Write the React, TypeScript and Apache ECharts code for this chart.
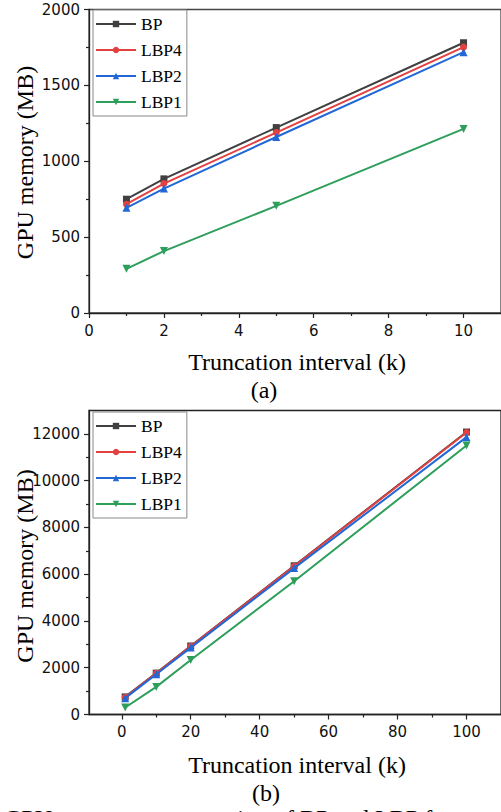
import React, { useEffect, useRef } from "react";
import * as echarts from "echarts";

// ---- Data (a): truncation interval 1..10 k ----
const xA = [1, 2, 5, 10];
const bpA = [750, 884, 1222, 1781];
const lbp4A = [717, 853, 1189, 1752];
const lbp2A = [693, 820, 1160, 1719];
const lbp1A = [291, 408, 706, 1213];

// ---- Data (b): truncation interval 1..100 k ----
const xB = [1, 10, 20, 50, 100];
const bpB = [752, 1770, 2930, 6360, 12080];
const lbp4B = [735, 1760, 2920, 6340, 12060];
const lbp2B = [700, 1720, 2860, 6260, 11860];
const lbp1B = [300, 1180, 2330, 5700, 11500];

const seriesNames = ["BP", "LBP4", "LBP2", "LBP1"];
const xTicksA = [0, 2, 4, 6, 8, 10];
const xMinorA = [1, 3, 5, 7, 9];
const xTicksB = [0, 20, 40, 60, 80, 100];
const xMinorB = [10, 30, 50, 70, 90];
const yTicksB = [0, 2000, 4000, 6000, 8000, 10000, 12000];
const yMinorB = [1000, 3000, 5000, 7000, 9000, 11000];

const COLORS = ["#404040", "#e3403f", "#2168d6", "#2e9e5b"];
const SYMBOLS = ["rect", "circle", "triangle", "triangle"];
const SYM_SIZE = [7, 7, 8, 8];
const SYM_ROT = [0, 0, 0, 180];

const AX = "#222";
const SANS = "DejaVu Sans";
const SERIF = "Liberation Serif";

const zip = (xs: number[], ys: number[]) => xs.map((x, i) => [x, ys[i]]);
const plain = (v: number) => String(v);

export default function App() {
  const ref = useRef<HTMLDivElement>(null);
  useEffect(() => {
    if (!ref.current) return;
    const chart = echarts.init(ref.current, undefined, { renderer: "svg" });

    const mkSeries = (data: number[][][], axisIdx: number) =>
      data.map((d, i) => ({
        name: seriesNames[i],
        type: "line",
        xAxisIndex: axisIdx,
        yAxisIndex: axisIdx,
        data: d,
        symbol: SYMBOLS[i],
        symbolSize: SYM_SIZE[i],
        symbolRotate: SYM_ROT[i],
        showAllSymbol: true,
        lineStyle: { color: COLORS[i], width: 2 },
        itemStyle: { color: COLORS[i] },
        z: 2 + i,
      }));

    const labelStyle = { fontFamily: SANS, fontSize: 15, color: "#111", formatter: plain };
    const legendBase = {
      orient: "vertical",
      left: 93,
      itemWidth: 40,
      itemHeight: 8,
      itemGap: 8,
      padding: [5, 5, 5, 2],
      borderColor: "#888",
      borderWidth: 1,
      backgroundColor: "#fff",
      textStyle: { fontFamily: SERIF, fontSize: 17.5, color: "#000", lineHeight: 14 },
      data: seriesNames,
    };

    const serifText = (text: string, x: number, y: number, rot = 0) => ({
      type: "text",
      x,
      y,
      rotation: rot,
      style: {
        text,
        fontFamily: SERIF,
        fontSize: 24,
        fill: "#000",
        align: "center",
        verticalAlign: "middle",
      },
    });

    chart.setOption({
      animation: false,
      backgroundColor: "#fff",
      grid: [
        { left: 89, top: 9.5, width: 416, height: 303.5, show: true, borderColor: "#444", borderWidth: 1.3, backgroundColor: "transparent" },
        { left: 89, top: 410.5, width: 416, height: 304, show: true, borderColor: "#222", borderWidth: 1.3, backgroundColor: "transparent" },
      ],
      legend: [
        { ...legendBase, top: 10 },
        { ...legendBase, top: 412 },
      ],
      xAxis: [
        {
          type: "value", gridIndex: 0, min: 0, max: 11, position: "bottom",
          axisLine: { onZero: false, lineStyle: { color: AX, width: 1.3 } },
          axisTick: { customValues: xTicksA, length: 5, lineStyle: { color: AX, width: 1.2 } },
          axisLabel: { customValues: xTicksA, margin: 10, ...labelStyle },
          splitLine: { show: false },
        },
        {
          type: "value", gridIndex: 1, min: -9.5, max: 110, position: "bottom",
          axisLine: { onZero: false, lineStyle: { color: AX, width: 1.3 } },
          axisTick: { customValues: xTicksB, length: 5, lineStyle: { color: AX, width: 1.2 } },
          axisLabel: { customValues: xTicksB, margin: 10, ...labelStyle },
          splitLine: { show: false },
        },
        {
          type: "value", gridIndex: 0, min: 0, max: 11, position: "bottom",
          axisLine: { show: false, onZero: false },
          axisTick: { customValues: xMinorA, length: 3, lineStyle: { color: AX, width: 1.2 } },
          axisLabel: { show: false },
          splitLine: { show: false },
        },
        {
          type: "value", gridIndex: 1, min: -9.5, max: 110, position: "bottom",
          axisLine: { show: false, onZero: false },
          axisTick: { customValues: xMinorB, length: 3, lineStyle: { color: AX, width: 1.2 } },
          axisLabel: { show: false },
          splitLine: { show: false },
        },
      ],
      yAxis: [
        {
          type: "value", gridIndex: 0, min: 0, max: 2000, interval: 500, position: "left",
          axisLine: { show: true, onZero: false, lineStyle: { color: AX, width: 1.3 } },
          axisTick: { show: true, length: 5, lineStyle: { color: AX, width: 1.2 } },
          minorTick: { show: true, splitNumber: 2, length: 3, lineStyle: { color: AX, width: 1.2 } },
          axisLabel: { margin: 9, ...labelStyle },
          splitLine: { show: false },
          minorSplitLine: { show: false },
        },
        {
          type: "value", gridIndex: 1, min: 0, max: 13000, position: "left",
          axisLine: { show: true, onZero: false, lineStyle: { color: AX, width: 1.3 } },
          axisTick: { show: true, customValues: yTicksB, length: 5, lineStyle: { color: AX, width: 1.2 } },
          axisLabel: { customValues: yTicksB, margin: 9, ...labelStyle },
          splitLine: { show: false },
        },
        {
          type: "value", gridIndex: 1, min: 0, max: 13000, position: "left",
          axisLine: { show: false, onZero: false },
          axisTick: { show: true, customValues: yMinorB, length: 3, lineStyle: { color: AX, width: 1.2 } },
          axisLabel: { show: false },
          splitLine: { show: false },
        },
      ],
      series: [
        ...mkSeries([zip(xA, bpA), zip(xA, lbp4A), zip(xA, lbp2A), zip(xA, lbp1A)], 0),
        ...mkSeries([zip(xB, bpB), zip(xB, lbp4B), zip(xB, lbp2B), zip(xB, lbp1B)], 1),
      ],
      graphic: [
        serifText("GPU memory (MB)", 25, 162.5, Math.PI / 2),
        serifText("Truncation interval (k)", 297, 362),
        serifText("(a)", 264, 390),
        serifText("GPU memory (MB)", 25, 566, Math.PI / 2),
        serifText("Truncation interval (k)", 297, 765),
        serifText("(b)", 266, 793),
        {
          type: "text",
          x: 4,
          y: 805.5,
          style: {
            text: "GPU memory consumption of BP and LBP for",
            fontFamily: SERIF,
            fontSize: 24,
            fill: "#000",
            align: "left",
            verticalAlign: "top",
          },
        },
      ],
    });
    return () => chart.dispose();
  }, []);

  return (
    <div
      ref={ref}
      style={{ position: "fixed", left: 0, top: 0, width: 501, height: 812, overflow: "hidden" }}
    />
  );
}
